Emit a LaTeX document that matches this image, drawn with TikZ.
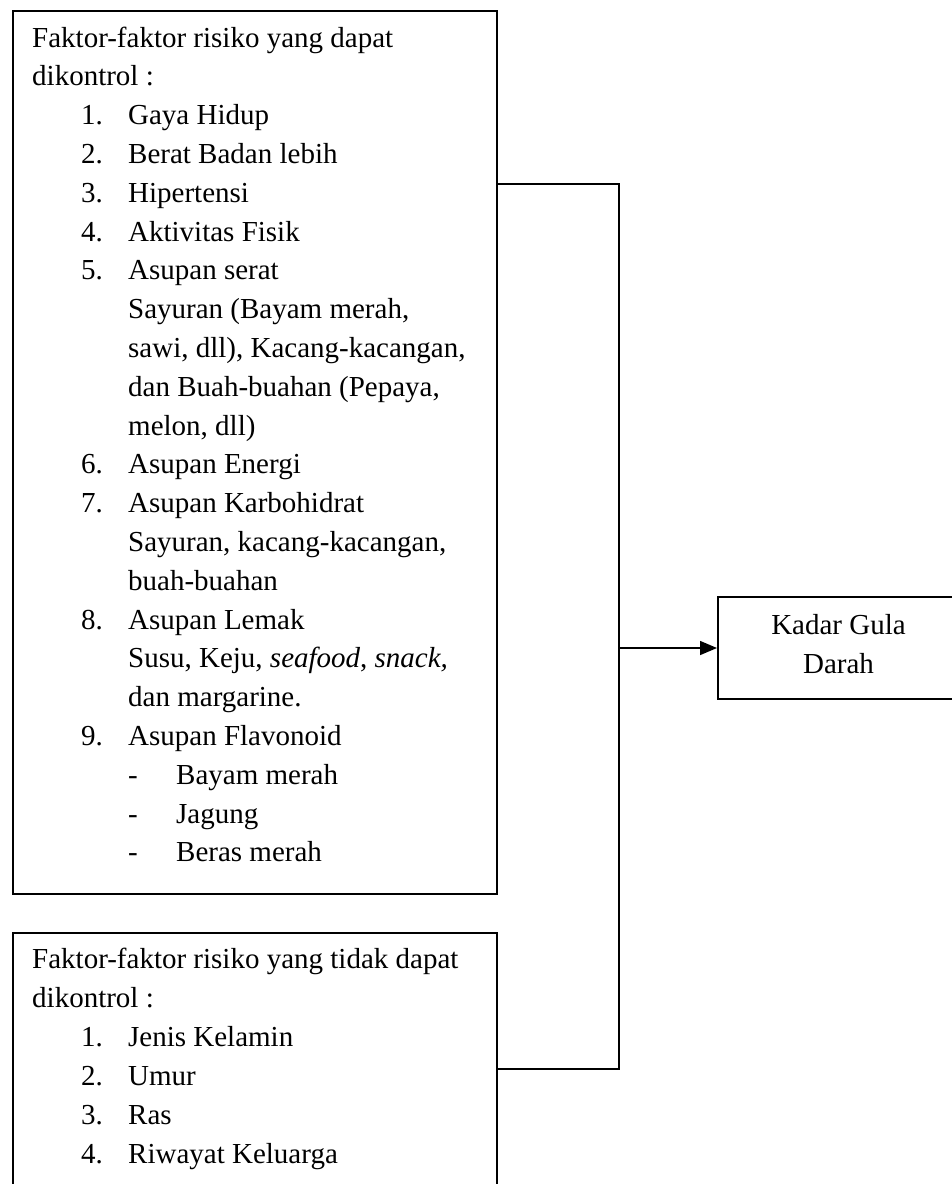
\documentclass[tikz,border=0pt]{standalone}
\usepackage{fontspec}
\setmainfont{Liberation Serif}
\usetikzlibrary{arrows.meta}
\newcommand{\dfs}{\fontsize{29}{38.8}\selectfont}
\newcommand{\numit}[2]{\makebox[47pt][l]{#1}#2}
\newcommand{\dashit}[1]{\makebox[48pt][l]{-}#1}
\begin{document}
\begin{tikzpicture}[x=1pt,y=-1pt,
  boxst/.style={draw,line width=1.5pt,inner sep=0pt,anchor=north west},
  txt/.style={anchor=base west,inner sep=0pt,font=\dfs},
  ctxt/.style={anchor=base,inner sep=0pt,font=\dfs},
  conn/.style={line width=1.5pt}]
\useasboundingbox (0,0) rectangle (952,1184);
\clip (0,0) rectangle (952,1184);
% boxes
\node[boxst,minimum width=484pt,minimum height=883pt] (b1) at (12,10) {};
\node[boxst,minimum width=484pt,minimum height=300pt] (b2) at (12,932) {};
\node[boxst,minimum width=280pt,minimum height=102pt] (b3) at (717,596) {};
% box 1 text
\node[txt] (l0) at (32,47) {Faktor-faktor risiko yang dapat};
\node[txt] (l1) at (32,85.8) {dikontrol :};
\node[txt] (l2) at (81,124.6) {\numit{1.}{Gaya Hidup}};
\node[txt] (l3) at (81,163.4) {\numit{2.}{Berat Badan lebih}};
\node[txt] (l4) at (81,202.2) {\numit{3.}{Hipertensi}};
\node[txt] (l5) at (81,241) {\numit{4.}{Aktivitas Fisik}};
\node[txt] (l6) at (81,279.8) {\numit{5.}{Asupan serat}};
\node[txt] (l7) at (128,318.6) {Sayuran (Bayam merah,};
\node[txt] (l8) at (128,357.4) {sawi, dll), Kacang-kacangan,};
\node[txt] (l9) at (128,396.2) {dan Buah-buahan (Pepaya,};
\node[txt] (l10) at (128,435) {melon, dll)};
\node[txt] (l11) at (81,473.8) {\numit{6.}{Asupan Energi}};
\node[txt] (l12) at (81,512.6) {\numit{7.}{Asupan Karbohidrat}};
\node[txt] (l13) at (128,551.4) {Sayuran, kacang-kacangan,};
\node[txt] (l14) at (128,590.2) {buah-buahan};
\node[txt] (l15) at (81,629) {\numit{8.}{Asupan Lemak}};
\node[txt] (l16) at (128,667.8) {Susu, Keju, \textit{seafood}, \textit{snack,}};
\node[txt] (l17) at (128,706.6) {dan margarine.};
\node[txt] (l18) at (81,745.4) {\numit{9.}{Asupan Flavonoid}};
\node[txt] (l19) at (128,784.2) {\dashit{Bayam merah}};
\node[txt] (l20) at (128,823) {\dashit{Jagung}};
\node[txt] (l21) at (128,861.8) {\dashit{Beras merah}};
% box 2 text
\node[txt] (m0) at (32,968) {Faktor-faktor risiko yang tidak dapat};
\node[txt] (m1) at (32,1007) {dikontrol :};
\node[txt] (m2) at (81,1046) {\numit{1.}{Jenis Kelamin}};
\node[txt] (m3) at (81,1085) {\numit{2.}{Umur}};
\node[txt] (m4) at (81,1124) {\numit{3.}{Ras}};
\node[txt] (m5) at (81,1163) {\numit{4.}{Riwayat Keluarga}};
% box 3 text
\node[ctxt] (k0) at (838.5,634) {Kadar Gula};
\node[ctxt] (k1) at (838.5,673) {Darah};
% connectors
\coordinate (j1) at (619,184);
\coordinate (j2) at (619,1069);
\coordinate (jm) at (619,648);
\draw[conn] (b1.east |- j1) -- (j1) -- (j2) -- (b2.east |- j2);
\draw[conn,-{Triangle[length=17pt,width=14pt]}] (jm) -- (b3.west |- jm);
\end{tikzpicture}
\end{document}
